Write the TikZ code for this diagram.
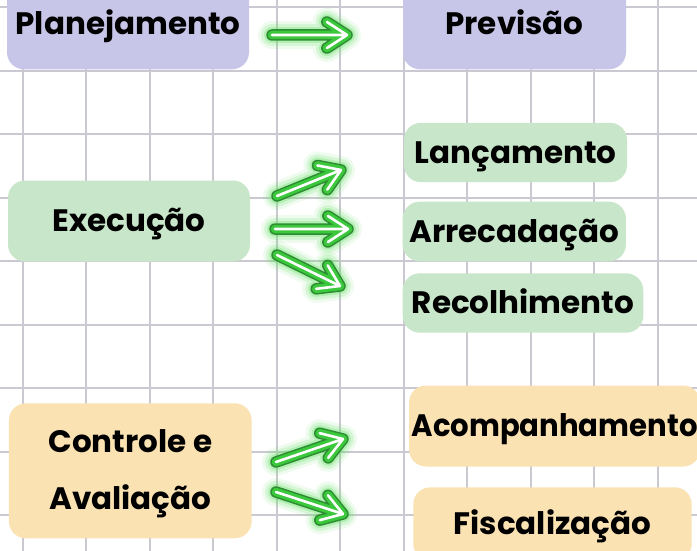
\documentclass[tikz,border=0pt]{standalone}
\usepackage{fontspec}
\usepackage{graphicx}
\setmainfont{Poppins}
\usetikzlibrary{calc}
\definecolor{gridc}{RGB}{202,200,208}
\definecolor{lav}{RGB}{200,198,232}
\definecolor{mint}{RGB}{200,230,201}
\definecolor{peach}{RGB}{250,226,178}
\definecolor{glowg}{RGB}{100,225,100}
\definecolor{neondark}{RGB}{45,140,50}
\definecolor{neongreen}{RGB}{60,200,60}
\newcommand\neonarrow[2]{%
  \foreach \w/\c/\o in {28/glowg/0.10,22/glowg/0.18,16/glowg/0.30,11.5/neondark/1,8.5/neongreen/1,2.6/white/1}{%
    \draw[line width=\w pt, color=\c, opacity=\o, line cap=round, line join=round]
      (#1) -- (#2) ($(#2)!24pt!33:(#1)$) -- (#2) -- ($(#2)!24pt!-33:(#1)$);
  }}
\begin{document}
\begin{tikzpicture}[x=1pt,y=-1pt,
  boxfont/.style={font=\fontsize{31}{40}\selectfont\bfseries},
  box/.style={rounded corners=17pt, inner sep=0pt, text=black, boxfont,
    text height=21.7pt, text depth=0pt}]
\useasboundingbox (0,0) rectangle (697,551);
\clip (0,0) rectangle (697,551);
\fill[white] (0,0) rectangle (697,551);
\foreach \i in {0,...,10} \draw[gridc, line width=2pt] ({22.7+63.5*\i},0) -- ++(0,551);
\foreach \i in {0,...,8} \draw[gridc, line width=2pt] (0,{7.3+63.5*\i}) -- ++(697,0);

\node[box, fill=lav, minimum width=242pt, minimum height=90.6pt] (plan) at (128,24) {Planejamento};
\node[box, fill=lav, minimum width=223pt, minimum height=90.6pt] (prev) at (514.5,24) {Previsão};

\node[box, fill=mint, minimum width=242pt, minimum height=81pt] (exec) at (129,221) {Execução};
\node[box, fill=mint, minimum width=223pt, minimum height=59.4pt] (lanc) at (515.5,152.5) {Lançamento};
\node[box, fill=mint, minimum width=223.3pt, minimum height=59.6pt] (arre) at (514.3,231.5) {Arrecadação};
\node[box, fill=mint, minimum width=240.6pt, minimum height=59.3pt] (reco) at (523,303) {Recolhimento};

\node[box, fill=peach, minimum width=242.7pt, minimum height=135pt] (ctrl) at (130.3,470.8) {};
\node[boxfont, text=black, align=center, inner sep=0pt,
  font=\fontsize{31}{57.5}\selectfont\bfseries] (ctrlt) at ($(ctrl.center)+(0,3)$) {Controle e\\Avaliação};
\node[box, fill=peach, minimum width=291pt, minimum height=81pt] (acom) at (554.6,426) {\scalebox{0.94}[1]{Acompanhamento}};
\node[box, fill=peach, minimum width=278.4pt, minimum height=73.4pt] (fisc) at (552.5,524) {Fiscalização};

\coordinate (a0s) at (272,35);  \coordinate (a0e) at (347,35);
\coordinate (a1s) at (277,196); \coordinate (a1e) at (341,170);
\coordinate (a2s) at (275,229); \coordinate (a2e) at (348,229);
\coordinate (a3s) at (277,255); \coordinate (a3e) at (340,286);
\coordinate (a4s) at (276,462); \coordinate (a4e) at (343,439);
\coordinate (a5s) at (276,492); \coordinate (a5e) at (343,514);
\neonarrow{a0s}{a0e}
\neonarrow{a1s}{a1e}
\neonarrow{a2s}{a2e}
\neonarrow{a3s}{a3e}
\neonarrow{a4s}{a4e}
\neonarrow{a5s}{a5e}
\end{tikzpicture}
\end{document}
